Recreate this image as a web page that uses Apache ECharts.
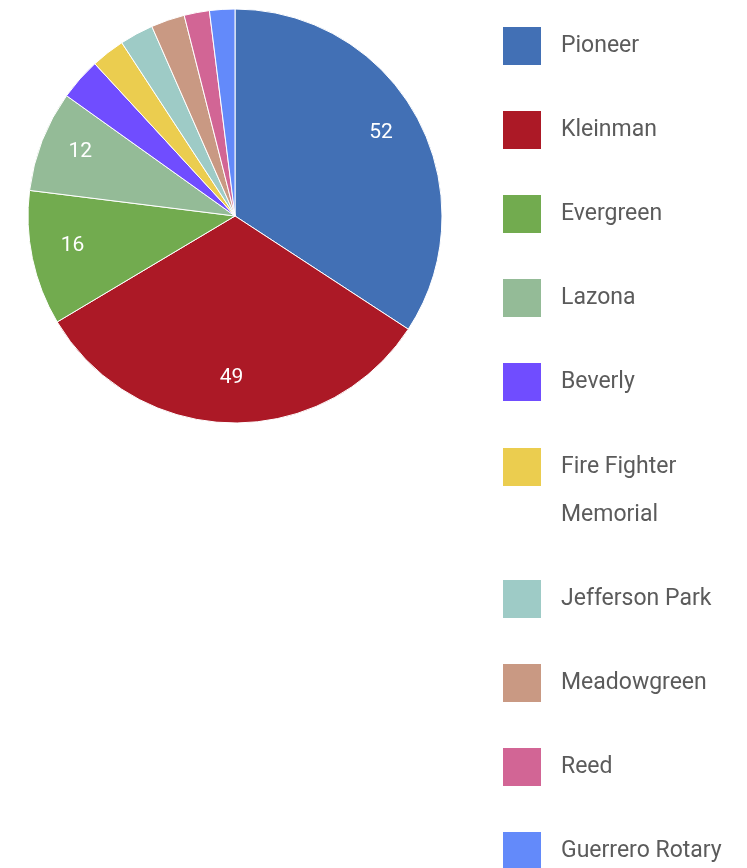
<!DOCTYPE html>
<html>
<head>
<meta charset="utf-8">
<script src="https://cdn.jsdelivr.net/npm/echarts@6/dist/echarts.min.js"></script>
<style>
  html, body { margin: 0; padding: 0; background: #fff; }
  #chart { width: 747px; height: 868px; }
</style>
</head>
<body>
<div id="chart"></div>
<script>
const schools = ['Pioneer', 'Kleinman', 'Evergreen', 'Lazona', 'Beverly', 'Fire Fighter Memorial',
  'Jefferson Park', 'Meadowgreen', 'Reed', 'Guerrero Rotary']
const counts = [52, 49, 16, 12, 5, 4, 4, 4, 3, 3]
const colors = ['#4270b5', '#ac1926', '#72ab4f', '#94bb97', '#704dff', '#ebcd4f',
  '#9ecbc6', '#c99983', '#d26595', '#638afa']

const chart = echarts.init(document.getElementById('chart'))

const pieData = schools.map((name, i) => ({ value: counts[i], name: name }))

const legendBase = {
  orient: 'vertical',
  left: 503,
  padding: 0,
  height: 420,
  icon: 'rect',
  itemWidth: 38,
  itemHeight: 38,
  itemGap: 46,
  selectedMode: false,
  itemStyle: { borderWidth: 0 },
  textStyle: {
    fontFamily: 'Roboto',
    fontSize: 23,
    color: '#5b5b5b',
    padding: [0, 0, 0, 15]
  }
}

// the long name wraps, so it gets a legend of its own;
// an empty first line keeps "Fire Fighter" level with the square
const fireLegend = Object.assign({}, legendBase, {
  top: 395,
  data: ['Fire Fighter Memorial'],
  formatter: () => '\nFire Fighter\nMemorial',
  textStyle: Object.assign({}, legendBase.textStyle, { lineHeight: 48 })
})

chart.setOption({
  color: colors,
  animation: false,
  legend: [
    Object.assign({}, legendBase, { top: 27, data: schools.slice(0, 5) }),
    fireLegend,
    Object.assign({}, legendBase, { top: 580, height: 300, data: schools.slice(6) })
  ],
  series: [
    {
      name: 'schools',
      type: 'pie',
      center: [235, 216],
      radius: [0, 207],
      startAngle: 90,
      clockwise: true,
      silent: true,
      itemStyle: { borderColor: '#fff', borderWidth: 1 },
      label: { show: false },
      labelLine: { show: false },
      data: pieData
    },
    {
      // transparent ring only used to place the value labels further out
      name: 'labels',
      type: 'pie',
      center: [235, 216],
      radius: [119, 207],
      startAngle: 90,
      clockwise: true,
      silent: true,
      itemStyle: { color: 'rgba(0,0,0,0)' },
      label: {
        show: true,
        position: 'inside',
        color: '#fff',
        fontFamily: 'Roboto',
        fontSize: 21,
        offset: [0, -4],
        formatter: p => p.value >= 10 ? String(p.value) : ''
      },
      labelLine: { show: false },
      data: pieData
    }
  ]
})
</script>
</body>
</html>
